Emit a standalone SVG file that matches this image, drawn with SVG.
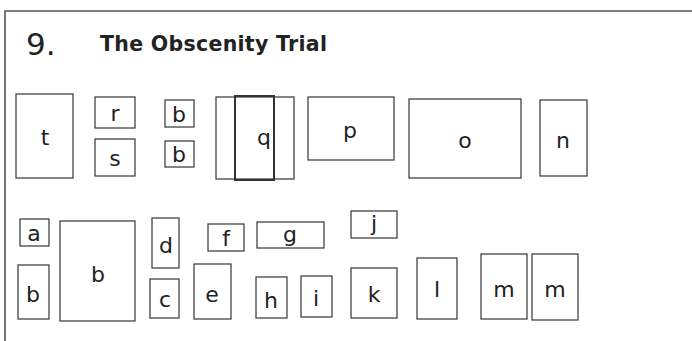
<svg xmlns="http://www.w3.org/2000/svg" width="692" height="341" viewBox="0 0 692 341">
<style>
.bx{fill:#fff;stroke:#444;stroke-width:1.3}
.lb{font-family:"DejaVu Sans",Verdana,sans-serif;font-size:22px;fill:#222;text-anchor:middle}
.frame{stroke:#555;stroke-width:1.6;fill:none}
</style>
<rect width="692" height="341" fill="#fff"/>
<g id="frame"><path class="frame" d="M5,341 V11 H692"/></g>
<g id="title">
<text x="26" y="55" font-family="DejaVu Sans,Verdana,sans-serif" font-size="31" fill="#222">9.</text>
<text x="100" y="51" font-family="DejaVu Sans,Verdana,sans-serif" font-size="20.5" font-weight="bold" fill="#222" textLength="227" lengthAdjust="spacing">The Obscenity Trial</text>
</g>
<g id="connectors"></g>
<g id="n-t"><rect class="bx" x="16" y="94" width="57" height="84"/><text class="lb" x="45" y="145">t</text></g>
<g id="n-r"><rect class="bx" x="95" y="97" width="40" height="31"/><text class="lb" x="115" y="121">r</text></g>
<g id="n-s"><rect class="bx" x="95" y="139" width="40" height="37"/><text class="lb" x="115" y="166">s</text></g>
<g id="n-b1"><rect class="bx" x="165" y="100" width="29" height="27"/><text class="lb" x="179" y="122">b</text></g>
<g id="n-b2"><rect class="bx" x="165" y="141" width="29" height="26"/><text class="lb" x="179" y="162">b</text></g>
<g id="n-q"><rect class="bx" x="216" y="97" width="78" height="82"/><rect x="235" y="96" width="39" height="84" fill="none" stroke="#333" stroke-width="2"/><text class="lb" x="264" y="145">q</text></g>
<g id="n-p"><rect class="bx" x="308" y="97" width="86" height="63"/><text class="lb" x="350" y="138">p</text></g>
<g id="n-o"><rect class="bx" x="409" y="99" width="112" height="79"/><text class="lb" x="465" y="148">o</text></g>
<g id="n-n"><rect class="bx" x="540" y="100" width="47" height="76"/><text class="lb" x="563" y="148">n</text></g>
<g id="n-a"><rect class="bx" x="20" y="219" width="29" height="27"/><text class="lb" x="34" y="241">a</text></g>
<g id="n-b3"><rect class="bx" x="18" y="265" width="31" height="54"/><text class="lb" x="33" y="302">b</text></g>
<g id="n-b4"><rect class="bx" x="60" y="221" width="75" height="100"/><text class="lb" x="98" y="282">b</text></g>
<g id="n-d"><rect class="bx" x="152" y="218" width="27" height="50"/><text class="lb" x="166" y="253">d</text></g>
<g id="n-c"><rect class="bx" x="150" y="279" width="29" height="39"/><text class="lb" x="165" y="307">c</text></g>
<g id="n-e"><rect class="bx" x="194" y="264" width="37" height="55"/><text class="lb" x="212" y="302">e</text></g>
<g id="n-f"><rect class="bx" x="208" y="224" width="36" height="27"/><text class="lb" x="226" y="246">f</text></g>
<g id="n-g"><rect class="bx" x="257" y="222" width="67" height="26"/><text class="lb" x="290" y="242">g</text></g>
<g id="n-h"><rect class="bx" x="256" y="277" width="31" height="41"/><text class="lb" x="271" y="308">h</text></g>
<g id="n-i"><rect class="bx" x="301" y="276" width="31" height="41"/><text class="lb" x="316" y="306">i</text></g>
<g id="n-j"><rect class="bx" x="351" y="211" width="46" height="27"/><text class="lb" x="374" y="231">j</text></g>
<g id="n-k"><rect class="bx" x="351" y="268" width="46" height="50"/><text class="lb" x="374" y="302">k</text></g>
<g id="n-l"><rect class="bx" x="417" y="258" width="40" height="61"/><text class="lb" x="437" y="297">l</text></g>
<g id="n-m1"><rect class="bx" x="481" y="254" width="46" height="65"/><text class="lb" x="504" y="297">m</text></g>
<g id="n-m2"><rect class="bx" x="532" y="254" width="46" height="66"/><text class="lb" x="555" y="297">m</text></g>
</svg>
